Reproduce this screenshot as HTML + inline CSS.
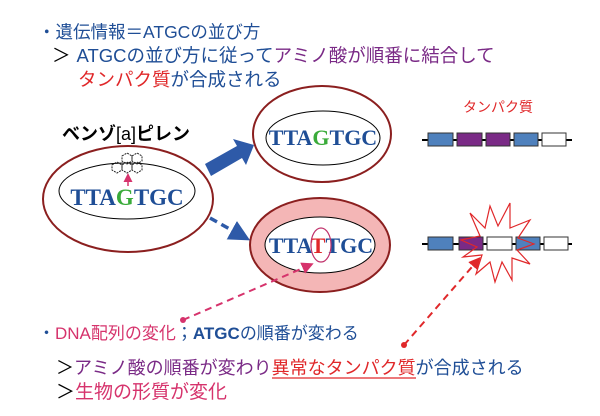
<!DOCTYPE html>
<html><head><meta charset="utf-8"><style>
html,body{margin:0;padding:0;background:#fff;width:600px;height:416px;overflow:hidden}
svg{display:block}
.j{font-family:"Liberation Sans","Noto Sans CJK JP",sans-serif}
.d{font-family:"Liberation Serif","DejaVu Serif",serif;font-weight:bold}
</style></head><body>
<svg width="600" height="416" viewBox="0 0 600 416" xmlns="http://www.w3.org/2000/svg">
<defs>
<marker id="bh" markerWidth="6" markerHeight="6" refX="4" refY="3" orient="auto" markerUnits="strokeWidth"><path d="M0,0 L6,3 L0,6z" fill="#2e5aa8"/></marker>
<marker id="ph" markerWidth="6" markerHeight="6" refX="4" refY="3" orient="auto" markerUnits="strokeWidth"><path d="M0,0 L6,3 L0,6z" fill="#d6336c"/></marker>
<marker id="rh" markerWidth="6" markerHeight="6" refX="4" refY="3" orient="auto" markerUnits="strokeWidth"><path d="M0,0 L6,3 L0,6z" fill="#e0282a"/></marker>
</defs>
<!-- top text -->
<g class="j">
<text x="38" y="38" fill="#1f4e96" font-size="17.5">・遺伝情報＝ATGCの並び方</text>
<text x="52" y="62" font-size="18.5"><tspan fill="#000">＞</tspan><tspan fill="#1f4e96" dx="6">ATGCの並び方に従って</tspan><tspan fill="#7a2a86">アミノ酸が順番に結合して</tspan></text>
<text x="78" y="86" font-size="18.5"><tspan fill="#e0282a">タンパク質</tspan><tspan fill="#1f4e96">が合成される</tspan></text>
</g>
<!-- left cell -->
<text x="62" y="140" class="j" font-size="18" font-weight="bold" fill="#000">ベンゾ<tspan font-weight="normal">[a]</tspan>ピレン</text>
<ellipse cx="128" cy="199" rx="85" ry="53" fill="#fff" stroke="#8b1f1f" stroke-width="2"/>
<ellipse cx="127" cy="191" rx="68" ry="28" fill="#fff" stroke="#000" stroke-width="1"/>
<g stroke="#222" stroke-width="1" fill="none" stroke-dasharray="2 1">
<path d="M112,165 l5,-3 l5,3 l0,5 l-5,3 l-5,-3z"/>
<path d="M122,165 l5,-3 l5,3 l0,5 l-5,3 l-5,-3z"/>
<path d="M132,165 l5,-3 l5,3 l0,5 l-5,3 l-5,-3z"/>
<path d="M122,156 l5,-3 l5,3 l0,5 l-5,3 l-5,-3z"/>
<path d="M132,156 l5,-3 l5,3 l0,5 l-5,3 l-5,-3z"/>
</g>
<line x1="128" y1="186" x2="128" y2="176" stroke="#d6336c" stroke-width="1.5" marker-end="url(#ph)"/>
<text x="127" y="205" text-anchor="middle" class="d" font-size="23" fill="#1f4e96">TTA<tspan fill="#3aab3a">G</tspan>TGC</text>
<!-- top right cell -->
<ellipse cx="322" cy="134" rx="69" ry="48" fill="#fff" stroke="#8b1f1f" stroke-width="2"/>
<ellipse cx="323" cy="138" rx="57" ry="27" fill="#fff" stroke="#000" stroke-width="1"/>
<text x="323" y="145" text-anchor="middle" class="d" font-size="22" fill="#1f4e96">TTA<tspan fill="#3aab3a">G</tspan>TGC</text>
<!-- bottom cell -->
<ellipse cx="320" cy="245" rx="70" ry="47" fill="#f4b6b6" stroke="#8b1f1f" stroke-width="2"/>
<ellipse cx="320" cy="245" rx="55" ry="28" fill="#fff" stroke="#000" stroke-width="1"/>
<text x="321" y="253" text-anchor="middle" class="d" font-size="22" fill="#1f4e96">TTA<tspan fill="#e0282a">T</tspan>TGC</text>
<ellipse cx="321" cy="245" rx="10" ry="17" fill="none" stroke="#c0306a" stroke-width="1.2"/>
<!-- thick arrow -->
<path d="M205,164 L237,146 L233,139 L254,145 L246,165 L242,158 L211,176 Z" fill="#2e5aa8"/>
<!-- dashed blue arrow -->
<line x1="210" y1="218" x2="244" y2="237" stroke="#2e5aa8" stroke-width="3.5" stroke-dasharray="8 5" marker-end="url(#bh)"/>
<!-- pink dashed -->
<line x1="183" y1="320" x2="310" y2="265" stroke="#d6336c" stroke-width="2" stroke-dasharray="7 5" marker-end="url(#ph)"/>
<circle cx="183" cy="320" r="3" fill="#d6336c"/>
<!-- protein -->
<text x="498" y="112" text-anchor="middle" class="j" font-size="14" fill="#e0282a">タンパク質</text>
<line x1="422" y1="140" x2="572" y2="140" stroke="#000" stroke-width="2"/>
<g stroke="#333" stroke-width="1">
<rect x="428" y="133" width="25" height="13" fill="#4f81bd"/>
<rect x="457" y="133" width="25" height="13" fill="#7a2a86"/>
<rect x="486" y="133" width="24" height="13" fill="#7a2a86"/>
<rect x="514" y="133" width="24" height="13" fill="#4f81bd"/>
<rect x="542" y="133" width="24" height="13" fill="#fff"/>
</g>
<line x1="422" y1="244" x2="572" y2="244" stroke="#000" stroke-width="2"/>
<g stroke="#333" stroke-width="1">
<rect x="428" y="237" width="25" height="13" fill="#4f81bd"/>
<rect x="459" y="237" width="24" height="13" fill="#7a2a86"/>
<rect x="487" y="237" width="25" height="13" fill="#fff"/>
<rect x="516" y="237" width="24" height="13" fill="#4f81bd"/>
<rect x="544" y="237" width="24" height="13" fill="#fff"/>
</g>
<path d="M470,213 L485,228 L490,206 L498,226 L510,203 L510,228 L530,220 L518,238 L534,244 L517,250 L530,264 L512,258 L512,280 L502,262 L495,282 L490,262 L476,274 L482,255 L463,257 L477,247 L461,240 L480,236 Z" fill="none" stroke="#e0282a" stroke-width="1.2"/>
<!-- red dashed -->
<line x1="404" y1="345" x2="478" y2="260" stroke="#e0282a" stroke-width="2" stroke-dasharray="7 5" marker-end="url(#rh)"/>
<circle cx="404" cy="345" r="3" fill="#e0282a"/>
<!-- bottom text -->
<g class="j">
<text x="38" y="339" font-size="17"><tspan fill="#1f4e96">・</tspan><tspan fill="#d6336c">DNA配列の変化</tspan><tspan fill="#1f4e96">；<tspan font-weight="bold">ATGC</tspan>の順番が変わる</tspan></text>
<text x="56" y="374" font-size="18"><tspan fill="#000">＞</tspan><tspan fill="#7a2a86">アミノ酸の順番が変わり</tspan><tspan fill="#e0282a">異常なタンパク質</tspan><tspan fill="#1f4e96">が合成される</tspan></text>
<text x="56" y="398" font-size="19"><tspan fill="#000">＞</tspan><tspan fill="#d6336c">生物の形質が変化</tspan></text>
</g>
<line x1="272" y1="378" x2="416" y2="378" stroke="#e0282a" stroke-width="1.2"/>
</svg>
</body></html>
